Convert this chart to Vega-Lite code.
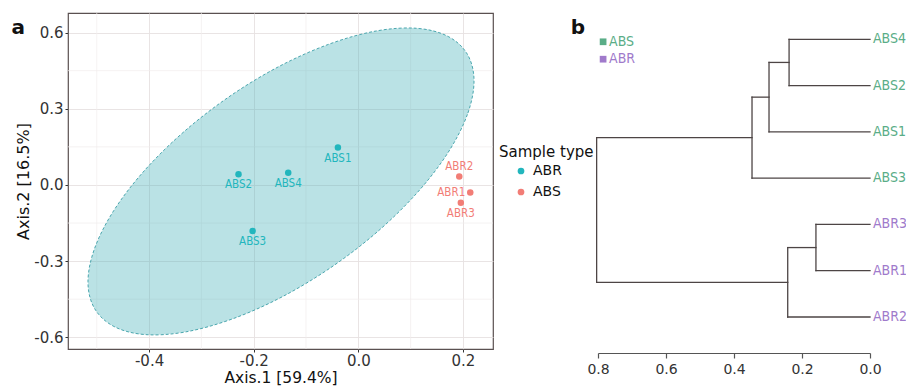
{
  "$schema": "https://vega.github.io/schema/vega-lite/v6.json",
  "padding": {"left": 10, "top": 12, "right": 0, "bottom": 0},
  "background": "white",
  "bounds": "flush",
  "spacing": 105,
  "config": {"font": "DejaVu Sans", "view": {"stroke": null}},
  "resolve": {"scale": {"color": "independent"}, "legend": {"color": "independent"}},
  "datasets": {
    "samples": [
      {"sample": "ABS1", "type": "ABR", "x": -0.039, "y": 0.147},
      {"sample": "ABS2", "type": "ABR", "x": -0.229, "y": 0.042},
      {"sample": "ABS3", "type": "ABR", "x": -0.202, "y": -0.181},
      {"sample": "ABS4", "type": "ABR", "x": -0.134, "y": 0.048},
      {"sample": "ABR1", "type": "ABS", "x": 0.214, "y": -0.030},
      {"sample": "ABR2", "type": "ABS", "x": 0.193, "y": 0.033},
      {"sample": "ABR3", "type": "ABS", "x": 0.196, "y": -0.070}
    ],
    "ellipse": [
      {"i": 1, "x": 0.2212, "y": 0.4094},
      {"i": 2, "x": 0.2086, "y": 0.2780},
      {"i": 3, "x": 0.1717, "y": 0.1280},
      {"i": 4, "x": 0.1132, "y": -0.0291},
      {"i": 5, "x": 0.0367, "y": -0.1839},
      {"i": 6, "x": -0.0522, "y": -0.3248},
      {"i": 7, "x": -0.1478, "y": -0.4429},
      {"i": 8, "x": -0.2434, "y": -0.5295},
      {"i": 9, "x": -0.3323, "y": -0.5795},
      {"i": 10, "x": -0.4088, "y": -0.5890},
      {"i": 11, "x": -0.4673, "y": -0.5571},
      {"i": 12, "x": -0.5042, "y": -0.4866},
      {"i": 13, "x": -0.5168, "y": -0.3819},
      {"i": 14, "x": -0.5042, "y": -0.2504},
      {"i": 15, "x": -0.4673, "y": -0.1004},
      {"i": 16, "x": -0.4088, "y": 0.0567},
      {"i": 17, "x": -0.3323, "y": 0.2114},
      {"i": 18, "x": -0.2434, "y": 0.3524},
      {"i": 19, "x": -0.1478, "y": 0.4705},
      {"i": 20, "x": -0.0522, "y": 0.5571},
      {"i": 21, "x": 0.0367, "y": 0.6071},
      {"i": 22, "x": 0.1132, "y": 0.6165},
      {"i": 23, "x": 0.1717, "y": 0.5846},
      {"i": 24, "x": 0.2086, "y": 0.5142}
    ],
    "minorX": [{"x": -0.5}, {"x": -0.3}, {"x": -0.1}, {"x": 0.1}],
    "minorY": [{"y": -0.45}, {"y": -0.15}, {"y": 0.15}, {"y": 0.45}],
    "tagA": [{"text": "a", "x": -0.650, "y": 0.594}],
    "segments": [
      {"x1": 0, "x2": 0.238, "y1": 1, "y2": 1},
      {"x1": 0, "x2": 0.238, "y1": 2, "y2": 2},
      {"x1": 0.238, "x2": 0.238, "y1": 1, "y2": 2},
      {"x1": 0.238, "x2": 0.297, "y1": 1.5, "y2": 1.5},
      {"x1": 0, "x2": 0.297, "y1": 3, "y2": 3},
      {"x1": 0.297, "x2": 0.297, "y1": 1.5, "y2": 3},
      {"x1": 0.297, "x2": 0.347, "y1": 2.25, "y2": 2.25},
      {"x1": 0, "x2": 0.347, "y1": 4, "y2": 4},
      {"x1": 0.347, "x2": 0.347, "y1": 2.25, "y2": 4},
      {"x1": 0.347, "x2": 0.804, "y1": 3.125, "y2": 3.125},
      {"x1": 0, "x2": 0.159, "y1": 5, "y2": 5},
      {"x1": 0, "x2": 0.159, "y1": 6, "y2": 6},
      {"x1": 0.159, "x2": 0.159, "y1": 5, "y2": 6},
      {"x1": 0.159, "x2": 0.242, "y1": 5.5, "y2": 5.5},
      {"x1": 0, "x2": 0.242, "y1": 7, "y2": 7},
      {"x1": 0.242, "x2": 0.242, "y1": 5.5, "y2": 7},
      {"x1": 0.242, "x2": 0.804, "y1": 6.25, "y2": 6.25},
      {"x1": 0.804, "x2": 0.804, "y1": 3.125, "y2": 6.25}
    ],
    "leaves": [
      {"leaf": "ABS4", "group": "ABS", "x1": 0, "y1": 1},
      {"leaf": "ABS2", "group": "ABS", "x1": 0, "y1": 2},
      {"leaf": "ABS1", "group": "ABS", "x1": 0, "y1": 3},
      {"leaf": "ABS3", "group": "ABS", "x1": 0, "y1": 4},
      {"leaf": "ABR3", "group": "ABR", "x1": 0, "y1": 5},
      {"leaf": "ABR1", "group": "ABR", "x1": 0, "y1": 6},
      {"leaf": "ABR2", "group": "ABR", "x1": 0, "y1": 7}
    ],
    "treeKey": [
      {"group": "ABS", "x1": 0.785, "y1": 1.054},
      {"group": "ABR", "x1": 0.785, "y1": 1.43}
    ],
    "tagB": [{"text": "b", "x1": 0.859, "y1": 0.893}]
  },
  "hconcat": [
    {
      "width": 425,
      "height": 336,
      "view": {"stroke": "#5a5050", "strokeWidth": 1.2},
      "encoding": {
        "x": {"field": "x", "type": "quantitative", "scale": {"domain": [-0.555, 0.2575], "nice": false, "zero": false},
          "axis": {"title": "Axis.1 [59.4%]", "values": [-0.4, -0.2, 0, 0.2], "labelExpr": "replace(format(datum.value, '.1f'), '\u2212', '-')", "domain": false, "tickSize": 3, "tickColor": "#333", "labelFontSize": 15, "labelColor": "#333", "labelPadding": 1, "labelFlush": false, "labelOverlap": false, "titleFontSize": 15.5, "titleFontWeight": "normal", "titleColor": "#111", "titlePadding": 2, "grid": true, "gridColor": "#e6e1e1", "gridWidth": 0.9}},
        "y": {"field": "y", "type": "quantitative", "scale": {"domain": [-0.646, 0.677], "nice": false, "zero": false},
          "axis": {"title": "Axis.2 [16.5%]", "values": [-0.6, -0.3, 0, 0.3, 0.6], "labelExpr": "replace(format(datum.value, '.1f'), '\u2212', '-')", "domain": false, "tickSize": 3, "tickColor": "#333", "labelFontSize": 15, "labelColor": "#333", "labelPadding": 2, "labelFlush": false, "labelOverlap": false, "titleFontSize": 16, "titleFontWeight": "normal", "titleColor": "#111", "titlePadding": 2, "grid": true, "gridColor": "#e6e1e1", "gridWidth": 0.9}}
      },
      "layer": [
        {
          "data": {"name": "minorX"},
          "mark": {"type": "rule", "color": "#f0ecec", "strokeWidth": 0.7},
          "encoding": {"y": null}
        },
        {
          "data": {"name": "minorY"},
          "mark": {"type": "rule", "color": "#f0ecec", "strokeWidth": 0.7},
          "encoding": {"x": null}
        },
        {
          "data": {"name": "ellipse"},
          "mark": {"type": "line", "interpolate": "cardinal-closed", "fill": "#3fb0b8", "fillOpacity": 0.36, "stroke": "#4aa6ae", "strokeWidth": 1, "strokeDash": [3, 2]},
          "encoding": {
            "order": {"field": "i", "type": "quantitative"}
          }
        },
        {
          "data": {"name": "samples"},
          "mark": {"type": "circle", "opacity": 1, "size": 42},
          "encoding": {
            "color": {
              "field": "type", "type": "nominal",
              "scale": {"domain": ["ABR", "ABS"], "range": ["#22b6bd", "#f27d76"]},
              "legend": {"title": "Sample type", "orient": "none", "legendX": 431, "legendY": 132, "titleFontSize": 15, "titleFontWeight": "normal", "titleColor": "#111", "labelFontSize": 14, "labelColor": "#111", "symbolType": "circle", "symbolSize": 45, "symbolOffset": 15, "labelOffset": 5, "titlePadding": 4, "rowPadding": 7, "padding": 0}
            }
          }
        },
        {
          "data": {"name": "samples"},
          "transform": [{"filter": "datum.sample != 'ABR1' && datum.sample != 'ABR2'"}],
          "mark": {"type": "text", "font": "DejaVu Sans Condensed", "fontSize": 11.5, "dy": 11, "baseline": "middle", "align": "center"},
          "encoding": {
            "text": {"field": "sample"},
            "color": {"field": "type", "type": "nominal", "legend": null}
          }
        },
        {
          "data": {"name": "samples"},
          "transform": [{"filter": "datum.sample == 'ABR2'"}],
          "mark": {"type": "text", "font": "DejaVu Sans Condensed", "fontSize": 11.5, "dy": -10, "baseline": "middle", "align": "center"},
          "encoding": {
            "text": {"field": "sample"},
            "color": {"field": "type", "type": "nominal", "legend": null}
          }
        },
        {
          "data": {"name": "samples"},
          "transform": [{"filter": "datum.sample == 'ABR1'"}],
          "mark": {"type": "text", "font": "DejaVu Sans Condensed", "fontSize": 11.5, "dx": -5, "baseline": "middle", "align": "right"},
          "encoding": {
            "text": {"field": "sample"},
            "color": {"field": "type", "type": "nominal", "legend": null}
          }
        },
        {
          "data": {"name": "tagA"},
          "mark": {"type": "text", "fontSize": 20, "fontWeight": "bold", "color": "#111", "align": "center", "baseline": "alphabetic"},
          "encoding": {
            "text": {"field": "text"}
          }
        }
      ]
    },
    {
      "width": 272,
      "height": 340,
      "view": {"stroke": null},
      "encoding": {
        "x": {
          "field": "x1", "type": "quantitative",
          "scale": {"domain": [0, 0.8], "reverse": true, "nice": false, "zero": false},
          "axis": {"title": null, "values": [0, 0.2, 0.4, 0.6, 0.8], "format": ".1f", "grid": false, "domainColor": "#555", "domainWidth": 1.2, "tickColor": "#555", "tickWidth": 1.2, "tickSize": 5, "labelFontSize": 14, "labelColor": "#333", "labelPadding": 4, "labelFlush": false, "labelOverlap": false}
        },
        "y": {"field": "y1", "type": "quantitative", "scale": {"domain": [0.432, 7.778], "reverse": true, "nice": false, "zero": false}, "axis": null}
      },
      "layer": [
        {
          "data": {"name": "segments"},
          "mark": {"type": "rule", "color": "#4d4545", "strokeWidth": 1.3, "strokeCap": "square"},
          "encoding": {
            "x2": {"field": "x2"},
            "y2": {"field": "y2"}
          }
        },
        {
          "data": {"name": "leaves"},
          "mark": {"type": "text", "font": "DejaVu Sans Condensed", "fontSize": 14, "align": "left", "baseline": "middle", "dx": 3},
          "encoding": {
            "text": {"field": "leaf"},
            "color": {"field": "group", "type": "nominal", "scale": {"domain": ["ABS", "ABR"], "range": ["#5aad87", "#a07acb"]}, "legend": null}
          }
        },
        {
          "data": {"name": "treeKey"},
          "mark": {"type": "point", "shape": "square", "filled": true, "size": 45, "opacity": 1},
          "encoding": {
            "color": {"field": "group", "type": "nominal", "legend": null}
          }
        },
        {
          "data": {"name": "treeKey"},
          "mark": {"type": "text", "font": "DejaVu Sans Condensed", "fontSize": 14, "align": "left", "baseline": "middle", "dx": 6},
          "encoding": {
            "text": {"field": "group"},
            "color": {"field": "group", "type": "nominal", "legend": null}
          }
        },
        {
          "data": {"name": "tagB"},
          "mark": {"type": "text", "fontSize": 20, "fontWeight": "bold", "color": "#111", "align": "center", "baseline": "alphabetic"},
          "encoding": {
            "text": {"field": "text"}
          }
        }
      ]
    }
  ]
}
